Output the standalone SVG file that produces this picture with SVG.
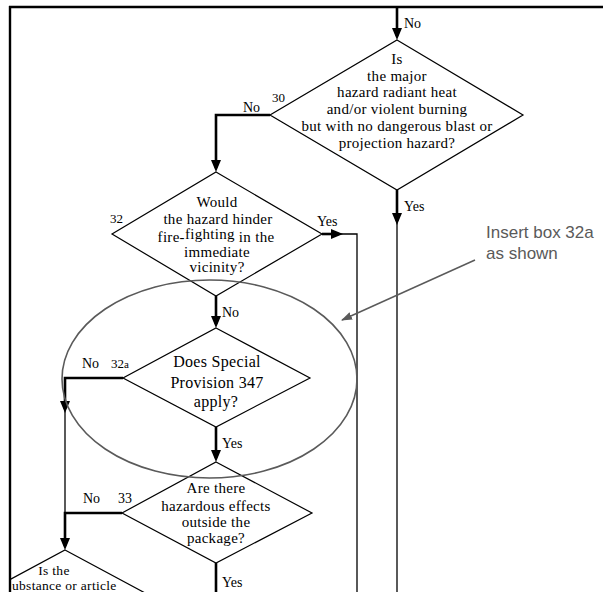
<svg xmlns="http://www.w3.org/2000/svg" width="603" height="592" viewBox="0 0 603 592">
<style>
.sh{fill:none;stroke:#000;stroke-width:1.2}
.t{font-family:"Liberation Serif","Times New Roman",serif;font-size:15px;fill:#000;text-anchor:middle;letter-spacing:0.3px}
.l{font-family:"Liberation Serif","Times New Roman",serif;font-size:14px;fill:#000}
.n{font-family:"Liberation Serif","Times New Roman",serif;font-size:13px;fill:#000}
.thick{fill:none;stroke:#000;stroke-width:2.6}
.thin{fill:none;stroke:#000;stroke-width:1.3}
.note{font-family:"Liberation Sans",Arial,sans-serif;font-size:17px;fill:#5a5a5a}
</style>
<defs>
<marker id="ah" markerUnits="userSpaceOnUse" markerWidth="13" markerHeight="11" refX="8" refY="5" orient="auto">
<path d="M0,0 L12,5 L0,10 z" fill="#000"/>
</marker>
<marker id="gh" markerUnits="userSpaceOnUse" markerWidth="12" markerHeight="10" refX="10" refY="4" orient="auto">
<path d="M0,0 L11,4 L0,8 z" fill="#5a5a5a"/>
</marker>
<clipPath id="cl"><rect x="11" y="0" width="592" height="592"/></clipPath>
</defs>
<rect x="0" y="0" width="603" height="592" fill="#fff"/>
<g id="frame">
<line x1="9" y1="7" x2="603" y2="7" stroke="#000" stroke-width="2.6"/>
<line x1="10" y1="6" x2="10" y2="592" stroke="#000" stroke-width="2.4"/>
</g>
<g id="connectors">
<line class="thick" x1="397" y1="8" x2="397" y2="36" marker-end="url(#ah)"/>
<polyline class="thick" points="270,115 216,115 216,168" marker-end="url(#ah)"/>
<line class="thick" x1="397" y1="190" x2="397" y2="221" marker-end="url(#ah)"/>
<line class="thin" x1="397" y1="221" x2="397" y2="592"/>
<line class="thick" x1="322" y1="234" x2="339" y2="234" marker-end="url(#ah)"/>
<polyline class="thin" points="339,234 357,234 357,592"/>
<line class="thick" x1="216" y1="296" x2="216" y2="324" marker-end="url(#ah)"/>
<polyline class="thick" points="123,378 65,378 65,409" marker-end="url(#ah)"/>
<line class="thin" x1="65" y1="409" x2="65" y2="513"/>
<line class="thick" x1="216" y1="427" x2="216" y2="458" marker-end="url(#ah)"/>
<polyline class="thick" points="122,513 65,513 65,546" marker-end="url(#ah)"/>
<line class="thick" x1="216" y1="563" x2="216" y2="592"/>
</g>
<g id="n30">
<polygon class="sh" points="397,40 523,115 397,190 270,115"/>
<text class="t" x="397" y="64">Is</text>
<text class="t" x="397" y="81">the major</text>
<text class="t" x="397" y="97">hazard radiant heat</text>
<text class="t" x="397" y="114">and/or violent burning</text>
<text class="t" x="397" y="131">but with no dangerous blast or</text>
<text class="t" x="397" y="148">projection hazard?</text>
<text class="n" x="272" y="102">30</text>
</g>
<g id="n32">
<polygon class="sh" points="216,172 322,234 216,296 112,234"/>
<text class="t" x="217" y="207">Would</text>
<text class="t" x="218" y="224">the hazard hinder</text>
<text class="t" x="216" y="242">fire-<tspan dy="-3">fighting</tspan><tspan dy="3"> in the</tspan></text>
<text class="t" x="217" y="257">immediate</text>
<text class="t" x="217" y="272">vicinity?</text>
<text class="n" x="110" y="223">32</text>
</g>
<g id="n32a">
<polygon class="sh" points="216,328 310,378 216,427 123,378"/>
<text class="t" x="217" y="367" style="font-size:16px">Does Special</text>
<text class="t" x="217" y="388" style="font-size:16px">Provision 347</text>
<text class="t" x="216" y="407" style="font-size:16px">apply?</text>
<text class="n" x="111" y="368">32<tspan style="font-size:11px">a</tspan></text>
</g>
<g id="n33">
<polygon class="sh" points="216,462 312,513 216,563 122,513"/>
<text class="t" x="216" y="493">Are there</text>
<text class="t" x="216" y="511">hazardous effects</text>
<text class="t" x="216" y="527">outside the</text>
<text class="t" x="216" y="543">package?</text>
<text class="l" x="118" y="503">33</text>
</g>
<g id="n34" clip-path="url(#cl)">
<polygon class="sh" points="65,550 160,601 65,652 -30,601"/>
<text class="t" x="54" y="575" style="font-size:13.5px">Is the</text>
<text class="t" x="12" y="590" style="text-anchor:start;font-size:13.5px">ubstance or article</text>
</g>
<g id="labels">
<text class="l" x="404" y="28">No</text>
<text class="l" x="243" y="112">No</text>
<text class="l" x="404" y="211">Yes</text>
<text class="l" x="317" y="226">Yes</text>
<text class="l" x="222" y="317">No</text>
<text class="l" x="82" y="368">No</text>
<text class="l" x="222" y="448">Yes</text>
<text class="l" x="83" y="503">No</text>
<text class="l" x="222" y="587">Yes</text>
</g>
<g id="ring">
<ellipse cx="209.5" cy="379" rx="147.5" ry="99" fill="none" stroke="#5a5a5a" stroke-width="1.6"/>
</g>
<g id="note">
<text class="note" x="486" y="238">Insert box 32a</text>
<text class="note" x="486" y="259">as shown</text>
<line x1="475" y1="260" x2="342" y2="320" stroke="#5a5a5a" stroke-width="1.5" marker-end="url(#gh)"/>
</g>
</svg>
